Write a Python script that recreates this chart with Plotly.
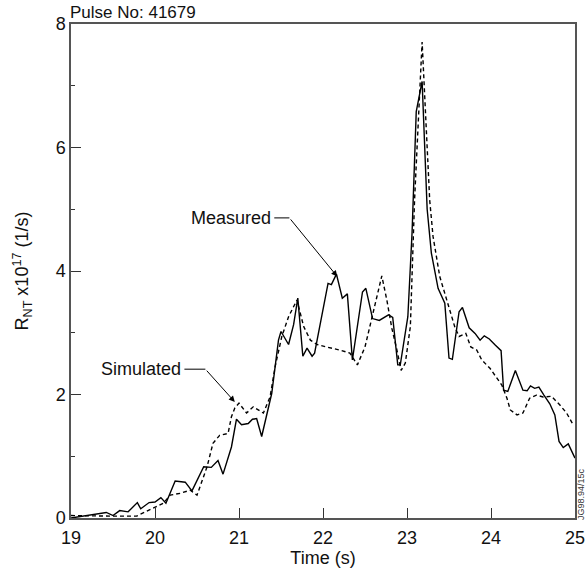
import plotly.graph_objects as go

# Measured (solid)
meas_t = [19.0, 19.27, 19.42, 19.50, 19.58, 19.68, 19.79, 19.83, 19.93, 20.0, 20.07, 20.13,
          20.24, 20.36, 20.44, 20.58, 20.67, 20.75, 20.81, 20.91, 20.97, 21.03, 21.11, 21.16,
          21.21, 21.27, 21.39, 21.47, 21.50, 21.59, 21.65, 21.70, 21.76, 21.81, 21.87, 21.90,
          21.96, 22.06, 22.10, 22.16, 22.23, 22.29, 22.35, 22.47, 22.51, 22.59, 22.67, 22.78,
          22.83, 22.89, 22.92, 23.01, 23.06, 23.11, 23.18, 23.24, 23.29, 23.37, 23.45, 23.50,
          23.54, 23.62, 23.66, 23.74, 23.81, 23.87, 23.92, 23.98, 24.05, 24.12, 24.15, 24.20,
          24.29, 24.38, 24.43, 24.47, 24.52, 24.57, 24.63, 24.70, 24.76, 24.81, 24.86, 24.92, 25.0]
meas_v = [0.0, 0.05, 0.09, 0.04, 0.12, 0.10, 0.25, 0.15, 0.25, 0.26, 0.33, 0.24,
          0.60, 0.58, 0.44, 0.83, 0.82, 0.93, 0.71, 1.15, 1.60, 1.51, 1.53, 1.60,
          1.61, 1.32, 2.02, 2.88, 3.02, 2.81, 3.13, 3.56, 2.62, 2.75, 2.62, 2.67,
          3.10, 3.80, 3.78, 3.95, 3.56, 3.63, 2.56, 3.66, 3.72, 3.23, 3.20, 3.29,
          3.25, 2.48, 2.48, 3.26, 4.61, 6.58, 7.07, 5.00, 4.29, 3.72, 3.48, 2.59,
          2.57, 3.34, 3.41, 3.08, 2.99, 2.88, 2.95, 2.90, 2.80, 2.71, 2.07, 2.05,
          2.39, 2.07, 2.06, 2.14, 2.10, 2.12, 1.99, 1.85, 1.67, 1.24, 1.14, 1.20, 0.97]

# Simulated (dashed)
sim_t = [19.0, 19.27, 19.5, 19.78, 19.90, 20.0, 20.10, 20.18, 20.30, 20.42, 20.50, 20.62,
         20.69, 20.77, 20.87, 20.91, 20.95, 21.0, 21.09, 21.17, 21.29, 21.37, 21.43, 21.51,
         21.59, 21.69, 21.77, 21.85, 21.93, 22.04, 22.20, 22.32, 22.41, 22.50, 22.60, 22.70,
         22.76, 22.82, 22.88, 22.93, 22.98, 23.04, 23.09, 23.18, 23.27, 23.31, 23.39, 23.47,
         23.57, 23.62, 23.70, 23.76, 23.83, 23.89, 23.99, 24.13, 24.19, 24.23, 24.31, 24.38,
         24.46, 24.54, 24.62, 24.72, 24.82, 24.90, 24.97]
sim_v = [0.04, 0.03, 0.03, 0.03, 0.11, 0.17, 0.24, 0.37, 0.40, 0.45, 0.37, 0.83,
         1.21, 1.34, 1.37, 1.64, 1.78, 1.86, 1.70, 1.80, 1.70, 1.96, 2.45, 2.94,
         3.26, 3.53, 3.10, 2.88, 2.81, 2.77, 2.72, 2.67, 2.48, 2.77, 3.37, 3.92,
         3.53, 3.07, 2.72, 2.39, 2.51, 3.10, 5.15, 7.71, 5.15, 4.56, 3.91, 3.53,
         3.09, 2.94, 2.99, 2.77, 2.72, 2.56, 2.42, 2.15, 1.94, 1.75, 1.67, 1.70,
         1.94, 1.99, 1.96, 1.97, 1.83, 1.70, 1.53]

x_ticks = [19, 20, 21, 22, 23, 24, 25]
y_ticks = [0, 2, 4, 6, 8]

FONT = "Liberation Sans, Arial, sans-serif"
FS = 18

fig = go.Figure()
fig.add_trace(go.Scatter(x=meas_t, y=meas_v, mode="lines", name="Measured",
                         line=dict(color="black", width=1.4), showlegend=False))
fig.add_trace(go.Scatter(x=sim_t, y=sim_v, mode="lines", name="Simulated",
                         line=dict(color="black", width=1.4, dash="4px,3px"), showlegend=False))

# Annotation leaders: horizontal segment then arrow
fig.add_shape(type="line", x0=21.42, y0=4.86, x1=21.60, y1=4.86,
              line=dict(color="black", width=1))
fig.add_annotation(x=22.17, y=3.91, ax=21.60, ay=4.86, axref="x", ayref="y",
                   xref="x", yref="y", text="", showarrow=True, arrowhead=2,
                   arrowsize=1.2, arrowwidth=1, arrowcolor="black")
fig.add_annotation(x=21.40, y=4.86, xref="x", yref="y", text="Measured",
                   showarrow=False, xanchor="right",
                   font=dict(family=FONT, size=FS, color="#111"))

fig.add_shape(type="line", x0=20.35, y0=2.41, x1=20.60, y1=2.41,
              line=dict(color="black", width=1))
fig.add_annotation(x=20.95, y=1.88, ax=20.60, ay=2.41, axref="x", ayref="y",
                   xref="x", yref="y", text="", showarrow=True, arrowhead=2,
                   arrowsize=1.2, arrowwidth=1, arrowcolor="black")
fig.add_annotation(x=20.33, y=2.41, xref="x", yref="y", text="Simulated",
                   showarrow=False, xanchor="right",
                   font=dict(family=FONT, size=FS, color="#111"))

fig.add_annotation(x=0, y=1, xref="paper", yref="paper", yanchor="bottom", xanchor="left",
                   text="Pulse No: 41679", showarrow=False, yshift=0, xshift=-3,
                   font=dict(family=FONT, size=17, color="#111"))

fig.add_annotation(x=1, y=0.0, xref="paper", yref="paper", xanchor="left", yanchor="bottom",
                   text="JG98.94/15c", textangle=-90, showarrow=False, xshift=-1, yshift=-4,
                   font=dict(family=FONT, size=9, color="#333"))

fig.update_xaxes(range=[19, 25], tickvals=x_ticks, ticks="inside", ticklen=10,
                 tickwidth=1.2, tickcolor="#333", showline=True, linecolor="#555",
                 linewidth=1.5, mirror=True, showgrid=False, zeroline=False,
                 ticklabelstandoff=3, automargin=False,
                 tickfont=dict(family=FONT, size=FS, color="#111"),
                 title=dict(text="Time (s)", font=dict(family=FONT, size=FS, color="#111"),
                            standoff=4))
fig.update_yaxes(range=[0, 8], tickvals=y_ticks, ticks="inside", ticklen=10,
                 tickwidth=1.2, tickcolor="#333", showline=True, linecolor="#555",
                 linewidth=1.5, mirror=True, showgrid=False, zeroline=False,
                 automargin=False,
                 minor=dict(tickvals=[1, 3, 5, 7], ticks="inside", ticklen=4,
                            tickcolor="#333", tickwidth=1.2),
                 tickfont=dict(family=FONT, size=FS, color="#111"),
                 title=dict(text="R<sub>NT</sub> x10<sup>17</sup> (1/s)",
                            font=dict(family=FONT, size=FS, color="#111"), standoff=22))

fig.update_layout(width=587, height=576, margin=dict(l=71, r=12, t=24, b=58),
                  plot_bgcolor="white", paper_bgcolor="white", showlegend=False)

fig.write_html("out.html")
